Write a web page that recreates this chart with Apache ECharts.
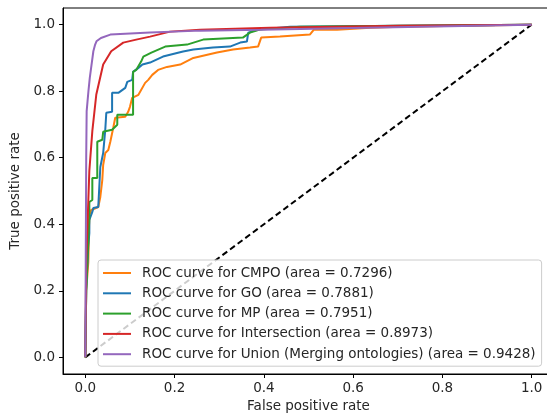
<!DOCTYPE html>
<html>
<head>
<meta charset="utf-8">
<script src="https://cdn.jsdelivr.net/npm/echarts@6/dist/echarts.min.js"></script>
<style>
html,body{margin:0;padding:0;background:#fff;}
#chart{width:547px;height:414px;}
</style>
</head>
<body>
<div id="chart"></div>
<script>
// Tick values
const xTicks = [0, 0.2, 0.4, 0.6, 0.8, 1.0];
const yTicks = [0, 0.2, 0.4, 0.6, 0.8, 1.0];

// Legend names
const names = [
  'ROC curve for CMPO (area = 0.7296)',
  'ROC curve for GO (area = 0.7881)',
  'ROC curve for MP (area = 0.7951)',
  'ROC curve for Intersection (area = 0.8973)',
  'ROC curve for Union (Merging ontologies) (area = 0.9428)'
];

// CMPO
const cmpoFpr = [0,0.002,0.0067,0.009,0.0134,0.029,0.0336,0.038,0.040,0.0447,0.0515,0.056,0.0626,0.067,0.0895,0.096,0.10,0.105,0.119,0.134,0.141,0.15,0.163,0.183,0.2125,0.242,0.295,0.331,0.369,0.387,0.394,0.436,0.503,0.512,0.564,0.638,0.705,0.839,1];
const cmpoTpr = [0,0.2,0.286,0.428,0.443,0.452,0.482,0.533,0.578,0.614,0.623,0.648,0.69,0.72,0.723,0.738,0.753,0.78,0.789,0.825,0.834,0.849,0.864,0.873,0.880,0.90,0.916,0.925,0.931,0.934,0.961,0.964,0.970,0.985,0.985,0.991,0.994,0.997,1];

// GO
const goFpr = [0,0.002,0.0067,0.009,0.009,0.0157,0.018,0.029,0.0336,0.040,0.0447,0.047,0.060,0.060,0.074,0.0895,0.094,0.105,0.107,0.119,0.128,0.145,0.174,0.219,0.242,0.286,0.324,0.347,0.362,0.365,0.385,0.459,0.705,1];
const goTpr = [0,0.2,0.337,0.373,0.413,0.437,0.449,0.452,0.572,0.614,0.684,0.735,0.738,0.795,0.795,0.81,0.828,0.834,0.858,0.870,0.880,0.886,0.904,0.919,0.925,0.931,0.934,0.946,0.949,0.976,0.985,0.994,0.997,1];

// MP
const mpFpr = [0,0.002,0.0045,0.009,0.009,0.0157,0.0157,0.0268,0.0268,0.038,0.040,0.060,0.0716,0.0716,0.107,0.107,0.114,0.125,0.130,0.148,0.179,0.228,0.264,0.353,0.369,0.391,0.481,0.705,1];
const mpTpr = [0,0.2,0.286,0.42,0.467,0.473,0.539,0.539,0.648,0.654,0.678,0.684,0.699,0.729,0.729,0.858,0.864,0.889,0.904,0.916,0.934,0.940,0.955,0.961,0.976,0.985,0.994,0.997,1];

// Intersection
const interFpr = [0,0.002,0.0045,0.0067,0.009,0.0157,0.0246,0.040,0.058,0.085,0.114,0.145,0.190,0.257,0.414,0.705,1];
const interTpr = [0,0.29,0.38,0.47,0.56,0.68,0.79,0.88,0.92,0.946,0.955,0.964,0.979,0.985,0.991,0.997,1];

// Union
const unionFpr = [0,0.001,0.002,0.003,0.005,0.007,0.010,0.013,0.018,0.022,0.025,0.035,0.056,0.145,0.257,0.393,0.6,1];
const unionTpr = [0,0.3,0.6,0.74,0.77,0.80,0.84,0.87,0.92,0.94,0.95,0.96,0.97,0.976,0.982,0.985,0.99,1];

// Chance diagonal
const chanceFpr = [0, 1];
const chanceTpr = [0, 1];

const zip = (a, b) => a.map((v, i) => [v, b[i]]);
const colors = ['#ff7f0e', '#1f77b4', '#2ca02c', '#d62728', '#9467bd'];
const curveData = [
  zip(cmpoFpr, cmpoTpr),
  zip(goFpr, goTpr),
  zip(mpFpr, mpTpr),
  zip(interFpr, interTpr),
  zip(unionFpr, unionTpr)
];

const FONT = 'DejaVu Sans';
const TXT = '#262626';
const FS = 13.5;

const series = [{
  name: 'chance',
  type: 'line',
  data: zip(chanceFpr, chanceTpr),
  showSymbol: false,
  symbol: 'none',
  silent: true,
  lineStyle: { color: '#000', width: 2, type: [6, 3.5] },
  z: 1
}];
names.forEach((n, i) => {
  series.push({
    name: n,
    type: 'line',
    data: curveData[i],
    symbol: 'none',
    showSymbol: false,
    lineStyle: { color: colors[i], width: 2 },
    itemStyle: { color: colors[i] },
    z: 2 + i
  });
});

const chart = echarts.init(document.getElementById('chart'), null, { renderer: 'canvas' });
chart.setOption({
  animation: false,
  backgroundColor: '#fff',
  grid: { left: 63, top: 8, width: 491, height: 366, show: true, borderColor: '#000', borderWidth: 1, containLabel: false, outerBoundsMode: 'none' },
  xAxis: {
    type: 'value', min: -0.05, max: 1.05,
    name: 'False positive rate', nameLocation: 'middle', nameGap: 25,
    nameTextStyle: { fontFamily: FONT, fontSize: FS, color: TXT },
    axisLine: { show: true, onZero: false, lineStyle: { color: '#000', width: 1 } },
    axisTick: { show: true, inside: false, length: 4, customValues: xTicks, lineStyle: { color: '#000' } },
    axisLabel: { customValues: xTicks, margin: 7, fontFamily: FONT, fontSize: FS, color: TXT, formatter: v => v.toFixed(1) },
    splitLine: { show: false }
  },
  yAxis: {
    type: 'value', min: -0.05, max: 1.05,
    name: 'True positive rate', nameLocation: 'middle', nameGap: 36,
    nameTextStyle: { fontFamily: FONT, fontSize: FS, color: TXT },
    axisLine: { show: true, onZero: false, lineStyle: { color: '#000', width: 1 } },
    axisTick: { show: true, inside: false, length: 4, customValues: yTicks, lineStyle: { color: '#000' } },
    axisLabel: { customValues: yTicks, margin: 8, fontFamily: FONT, fontSize: FS, color: TXT, formatter: v => v.toFixed(1) },
    splitLine: { show: false }
  },
  legend: {
    data: names,
    orient: 'vertical',
    left: 98, top: 260,
    padding: [6, 6, 5, 5],
    itemGap: 6.3,
    itemWidth: 28, itemHeight: 2,
    icon: 'rect',
    backgroundColor: 'rgba(255,255,255,0.8)',
    borderColor: '#cccccc', borderWidth: 1, borderRadius: 3,
    textStyle: { fontFamily: FONT, fontSize: FS, color: TXT, padding: [0, 0, 0, 6] },
    selectedMode: false
  },
  series: series
});
</script>
</body>
</html>
